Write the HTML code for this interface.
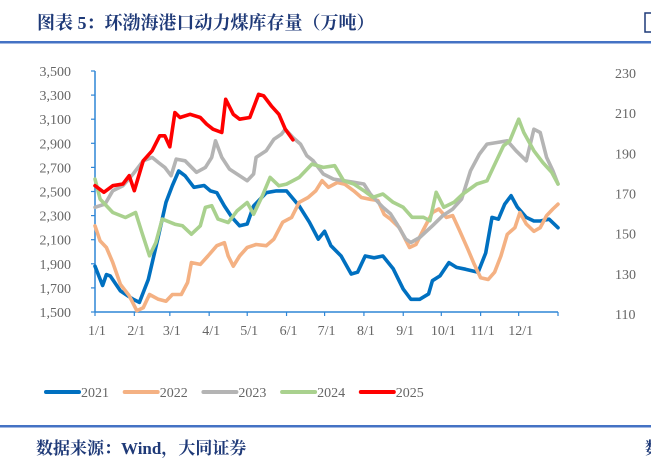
<!DOCTYPE html>
<html><head><meta charset="utf-8"><style>
html,body{margin:0;padding:0;background:#fff;width:651px;height:469px;overflow:hidden}
svg{display:block}
</style></head><body>
<svg id="chart" width="651" height="469" viewBox="0 0 651 469" xmlns="http://www.w3.org/2000/svg">
<text x="37" y="29" font-family="Liberation Serif,'Noto Serif CJK SC',serif" font-size="18" font-weight="bold" fill="#1f3a78">图表 5：环渤海港口动力煤库存量（万吨）</text>
<rect x="645" y="13" width="8" height="19" fill="none" stroke="#1f3a78" stroke-width="1.5"/>
<rect x="0" y="41" width="651" height="2.5" fill="#4472c4"/>
<rect x="0" y="425" width="651" height="2.5" fill="#4472c4"/>
<text x="36" y="454" font-family="Liberation Serif,'Noto Serif CJK SC',serif" font-size="17" font-weight="bold" fill="#1f3a78">数据来源：Wind，大同证券</text>
<text x="645" y="454" font-family="'Noto Serif CJK SC',serif" font-size="17" font-weight="bold" fill="#1f3a78">数</text>
<g id="axes"></g><g id="series"></g><g id="legend"></g>
</svg>
<script>
const leftTicks=[3500,3300,3100,2900,2700,2500,2300,2100,1900,1700,1500];
const leftTickLabels=["3,500","3,300","3,100","2,900","2,700","2,500","2,300","2,100","1,900","1,700","1,500"];
const rightTickLabels=["230","210","190","170","150","130","110"];
const monthStarts=[0,31,59,90,120,151,181,212,243,273,304,334];
const monthLabels=["1/1","2/1","3/1","4/1","5/1","6/1","7/1","8/1","9/1","10/1","11/1","12/1"];
const seriesNames=["2021","2022","2023","2024","2025"];
const days2021=[0,6,9,12,20,30,35,42,50,56,61,66,71,78,86,91,96,102,108,114,120,125,135,143,151,161,169,176,181,186,194,202,207,213,220,227,235,243,249,256,263,266,272,279,285,292,302,308,313,318,323,328,333,340,346,351,358,365];
const vals2021=[1880,1720,1810,1800,1675,1605,1580,1770,2130,2410,2550,2670,2630,2535,2550,2505,2490,2380,2285,2215,2230,2380,2490,2505,2505,2380,2245,2105,2170,2050,1965,1815,1830,1965,1950,1965,1860,1690,1605,1605,1650,1760,1800,1910,1870,1855,1830,1990,2285,2270,2395,2465,2370,2285,2255,2255,2270,2200];
const days2022=[0,4,9,14,20,27,33,38,43,50,56,61,68,73,76,83,89,96,102,105,109,114,120,127,135,141,148,155,161,168,174,179,184,191,197,204,210,217,223,228,233,240,248,253,259,266,271,277,282,287,294,299,304,310,315,320,325,331,335,340,346,351,356,361,365];
const vals2022=[2215,2090,2035,1910,1730,1635,1510,1535,1645,1605,1590,1645,1645,1745,1910,1895,1965,2050,2075,1965,1880,1965,2035,2060,2050,2105,2245,2285,2410,2450,2505,2590,2535,2575,2560,2505,2450,2435,2425,2310,2270,2200,2035,2060,2185,2325,2355,2285,2300,2185,2020,1895,1785,1770,1830,1965,2145,2200,2325,2230,2170,2200,2300,2355,2395];
const days2023=[0,8,14,22,30,38,45,50,55,60,64,71,80,87,92,95,100,106,114,120,125,127,135,141,147,150,156,162,167,172,180,188,196,204,212,217,222,227,233,238,245,249,256,266,274,282,289,296,303,309,317,325,332,340,346,351,356,361,365];
const vals2023=[2369,2396,2507,2548,2645,2755,2783,2741,2700,2631,2769,2755,2659,2700,2783,2921,2783,2686,2631,2590,2645,2783,2838,2934,2976,3017,2948,2893,2797,2755,2645,2603,2590,2576,2562,2479,2424,2369,2314,2231,2105,2077,2118,2215,2298,2354,2437,2672,2810,2893,2907,2921,2838,2755,3017,2990,2783,2672,2562];
const days2024=[0,4,14,24,32,37,43,48,53,63,69,76,83,87,92,97,105,112,120,125,132,138,145,151,161,171,180,189,196,204,212,219,227,235,243,250,259,264,269,275,283,290,301,309,314,322,327,334,338,346,353,360,365];
const vals2024=[2603,2437,2326,2284,2326,2160,1966,2077,2271,2229,2215,2146,2215,2368,2382,2271,2243,2340,2409,2312,2465,2617,2547,2561,2617,2727,2700,2714,2590,2562,2507,2452,2479,2410,2369,2286,2286,2258,2493,2369,2410,2479,2562,2589,2700,2879,2921,3100,2990,2838,2741,2659,2562];
const days2025=[0,7,14,22,27,31,38,45,51,55,59,63,67,75,83,88,93,100,103,109,114,122,129,133,139,145,150,156];
const vals2025=[2548,2493,2548,2562,2631,2507,2755,2838,2962,2962,2871,3155,3114,3141,3114,3059,3017,2990,3265,3141,3100,3114,3307,3293,3210,3141,3017,2929];
const seriesDays=[days2021,days2022,days2023,days2024,days2025];
const seriesVals=[vals2021,vals2022,vals2023,vals2024,vals2025];
const seriesColors=["#0070c0","#f4b183","#b4b4b4","#a9d18e","#ff0000"];

const NS="http://www.w3.org/2000/svg";
const X0=95,X1=558,Y0=312,Y1=71;
const xScale=d=>X0+d/365*(X1-X0);
const yScale=v=>Y0-(v-1500)/2000*(Y0-Y1);
function mk(tag,attrs,parent){const e=document.createElementNS(NS,tag);for(const k in attrs)e.setAttribute(k,attrs[k]);parent.appendChild(e);return e;}
const axes=document.getElementById('axes');
const font="Liberation Serif,'Noto Serif CJK SC',serif";
const yAxis=mk('line',{x1:X0,y1:Y1,x2:X0,y2:Y0,stroke:'#2f86d6','stroke-width':1.5},axes);


const xAxis=mk('line',{x1:X0,y1:Y0,x2:X1,y2:Y0,stroke:'#2f86d6','stroke-width':1.5},axes);


leftTicks.forEach((v,i)=>{
  const y=yScale(v);
  const t=mk('line',{x1:X0-4,y1:y,x2:X0,y2:y,stroke:'#2f86d6','stroke-width':1.2},axes);
  
  
  const l=mk('text',{x:71,y:y+5,'text-anchor':'end','font-family':font,'font-size':14,fill:'#666'},axes);
  l.textContent=leftTickLabels[i];
  
  
});
rightTickLabels.forEach((s,i)=>{
  const y=Y1+2+i*(Y0-Y1)/(rightTickLabels.length-1);
  const l=mk('text',{x:615,y:y+5,'font-family':font,'font-size':14,fill:'#666'},axes);
  l.textContent=s;
  
  
});
monthStarts.concat([365]).forEach(d=>{
  const x=xScale(d);
  const t=mk('line',{x1:x,y1:Y0,x2:x,y2:Y0+4,stroke:'#2f86d6','stroke-width':1.2},axes);
  
  
});
monthStarts.forEach((d,i)=>{
  const l=mk('text',{x:xScale(d)+2,y:Y0+23,'text-anchor':'middle','font-family':font,'font-size':14,fill:'#666'},axes);
  l.textContent=monthLabels[i];
  
  
});
const sg=document.getElementById('series');
seriesNames.forEach((n,i)=>{
  const pts=seriesDays[i].map((d,j)=>xScale(d).toFixed(1)+','+yScale(seriesVals[i][j]).toFixed(1)).join(' ');
  const p=mk('polyline',{points:pts,fill:'none',stroke:seriesColors[i],'stroke-width':3.6,'stroke-linejoin':'round','stroke-linecap':'round'},sg);
  
  
});
const lg=document.getElementById('legend');
seriesNames.forEach((n,i)=>{
  const x=46+i*78.7;
  const g=mk('g',{},lg);
  
  
  mk('line',{x1:x,y1:392,x2:x+33,y2:392,stroke:seriesColors[i],'stroke-width':4,'stroke-linecap':'round'},g);
  const t=mk('text',{x:x+35,y:397,'font-family':font,'font-size':14,fill:'#666'},g);
  t.textContent=n;
});
</script>
</body></html>
